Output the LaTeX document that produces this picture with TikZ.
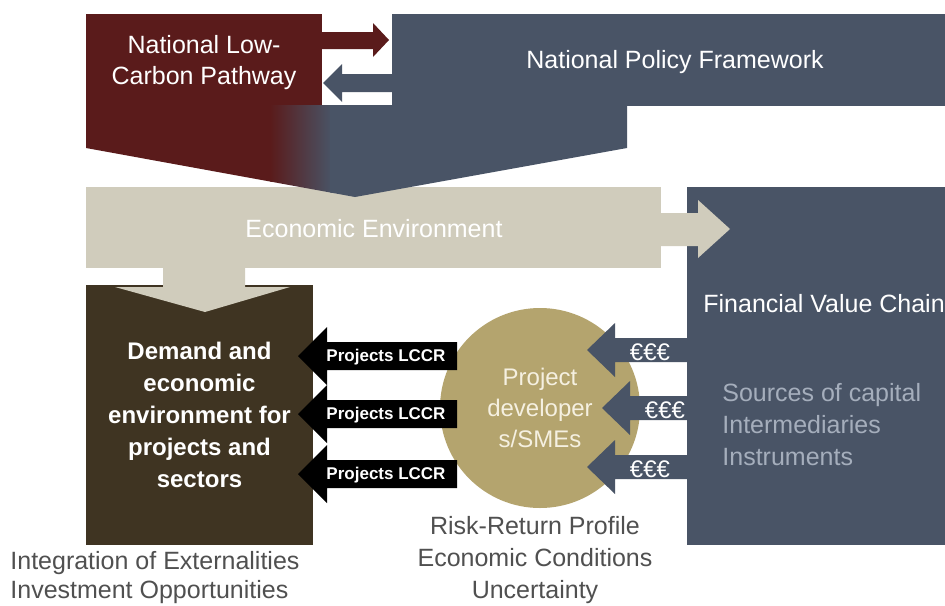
\documentclass[tikz,border=0pt]{standalone}
\usepackage{fontspec}
\setmainfont{Liberation Sans}
\usetikzlibrary{positioning}

\definecolor{carbonred}{RGB}{90,27,27}
\definecolor{policyblue}{RGB}{73,84,102}
\definecolor{econbeige}{RGB}{208,204,188}
\definecolor{demandbrown}{RGB}{63,52,34}
\definecolor{devkhaki}{RGB}{180,164,110}
\definecolor{devtext}{RGB}{245,240,225}
\definecolor{notegray}{RGB}{80,80,80}
\definecolor{sourcegray}{RGB}{165,174,188}

\tikzset{
  whitetext/.style={text=white, align=center, inner sep=0pt, font=\fontsize{12.5}{15.5}\selectfont},
  boldtext/.style={text=white, align=center, font=\bfseries\fontsize{12}{16}\selectfont},
  tagtext/.style={text=white, inner sep=0pt, font=\bfseries\fontsize{8.5}{10}\selectfont},
  eurotext/.style={text=white, inner sep=0pt, font=\fontsize{12}{14}\selectfont},
  notetext/.style={text=notegray, inner sep=0pt, font=\fontsize{12.5}{16}\selectfont}
}

\begin{document}
\begin{tikzpicture}[x=0.5pt, y=-0.5pt]
  \fill[white] (0,0) rectangle (945,605);
  \useasboundingbox (0,0) rectangle (945,605);

  % Financial value chain and economic environment
  \fill[policyblue] (687,187) rectangle (945,545);
  \fill[econbeige] (86,187) rectangle (661,268);
  \fill[econbeige] (661,213) -- (698,213) -- (698,200) -- (730,229) -- (698,258) -- (698,246) -- (661,246) -- cycle;
  \node[whitetext] (econ) at (374,229) {Economic Environment};
  \node[whitetext, anchor=west] (fvc) at (703,304) {Financial Value Chain};
  \node[anchor=west, align=left, inner sep=0pt, text=sourcegray, font=\fontsize{12.5}{16}\selectfont] (sources) at (722,425) {Sources of capital\\Intermediaries\\Instruments};

  % Low-carbon pathway and policy framework
  \fill[carbonred] (86,14) rectangle (322,106);
  \fill[policyblue] (392,14) rectangle (945,106);
  \begin{scope}
    \clip (86,105) -- (627,105) -- (627,148) -- (355,197) -- (86,148) -- cycle;
    \fill[carbonred] (80,100) rectangle (272,200);
    \shade[left color=carbonred, right color=policyblue] (270,100) rectangle (332,200);
    \fill[policyblue] (330,100) rectangle (630,200);
  \end{scope}
  \fill[carbonred] (322,32) -- (373,32) -- (373,23) -- (389,40) -- (373,57) -- (373,49) -- (322,49) -- cycle;
  \fill[policyblue] (392,74) -- (342,74) -- (342,64) -- (323,83) -- (342,102) -- (342,92) -- (392,92) -- cycle;
  \node[whitetext] (pathway) at (204,63) {National Low-\\Carbon Pathway};
  \node[whitetext] (policy) at (675,62) {National Policy Framework};

  % Demand box
  \node[fill=demandbrown, minimum width=113.5pt, minimum height=130pt, boldtext] (demand) at (199.5,415) {Demand and\\economic\\environment for\\projects and\\sectors};
  \fill[econbeige] (163,267) -- (245,267) -- (245,287) -- (290,287) -- (205,312) -- (115,287) -- (163,287) -- cycle;

  % Project developers
  \node[circle, fill=devkhaki, minimum size=100pt, inner sep=0pt, text=devtext, align=center, font=\fontsize{12}{15.5}\selectfont] (dev) at (540,408) {Project\\developer\\s/SMEs};

  % Money flows in
  \foreach \y/\t [count=\i] in {350/587, 408/602, 467/587} {
    \fill[policyblue] (\t,\y) -- (\t+28,\y-27) -- (\t+28,\y-12) -- (687,\y-12) -- (687,\y+12) -- (\t+28,\y+12) -- (\t+28,\y+27) -- cycle;
    \node[eurotext] (euro\i) at (\t+63,\y+2) {€€€};
  }

  % Projects go out
  \foreach \y [count=\i] in {356,414,474} {
    \fill[black] (298,\y) -- (327,\y-29) -- (327,\y-14) -- (457,\y-14) -- (457,\y+14) -- (327,\y+14) -- (327,\y+29) -- cycle;
    \node[tagtext] (lccr\i) at (386,\y+1) {Projects LCCR};
  }

  % Notes under the boxes
  \node[notetext, anchor=west, align=left, font=\fontsize{12.5}{14.5}\selectfont] (extern) at (10,578) {Integration of Externalities\\Investment Opportunities};
  \node[notetext, align=center] (risk) at (535,560) {Risk-Return Profile\\Economic Conditions\\Uncertainty};
\end{tikzpicture}
\end{document}
